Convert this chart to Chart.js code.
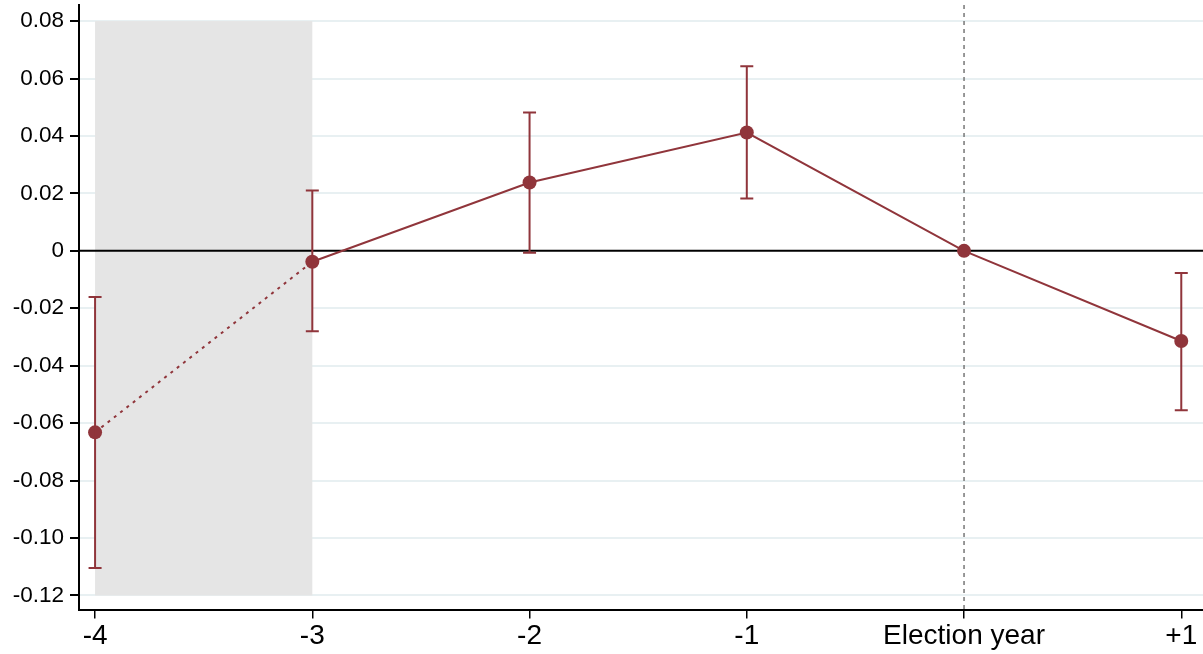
<!DOCTYPE html>
<html>
<head>
<meta charset="utf-8">
<script src="https://cdn.jsdelivr.net/npm/chart.js@4/dist/chart.umd.min.js"></script>
<style>
  html, body { margin: 0; padding: 0; background: #fff; }
  #wrap { width: 1203px; height: 654px; }
</style>
</head>
<body>
<div id="wrap"><canvas id="chart"></canvas></div>
<script>
// ---------- Data ----------
const categories = ['-4', '-3', '-2', '-1', 'Election year', '+1'];
const estimates = [-0.0632, -0.0038, 0.0238, 0.0412, 0, -0.0314];
const ciLower = [-0.1104, -0.0280, -0.0007, 0.0182, null, -0.0555];
const ciUpper = [-0.0161, 0.0210, 0.0482, 0.0643, null, -0.0077];
const yTicks = [-0.12, -0.10, -0.08, -0.06, -0.04, -0.02, 0, 0.02, 0.04, 0.06, 0.08];
const yTickLabels = ['-0.12', '-0.10', '-0.08', '-0.06', '-0.04', '-0.02', '0', '0.02', '0.04', '0.06', '0.08'];
const shadedFrom = 0; // index of '-4'
const shadedTo = 1;   // index of '-3'
const eventIndex = 4; // 'Election year'

const RED = '#90353b';
const FONT = "'Liberation Sans', Arial, sans-serif";

// ---------- Plugins ----------
// gray pre-period band, zero line and the event line, drawn under the data
const backdrop = {
    id: 'backdrop',
    beforeDatasetsDraw(chart) {
        const { ctx, scales: { x, y }, chartArea } = chart;
        ctx.save();
        const x0 = x.getPixelForValue(shadedFrom);
        const x1 = x.getPixelForValue(shadedTo);
        const yTop = y.getPixelForValue(yTicks[yTicks.length - 1]);
        const yBot = y.getPixelForValue(yTicks[0]);
        ctx.fillStyle = '#e5e5e5';
        ctx.fillRect(x0, yTop, x1 - x0, yBot - yTop);

        // zero line
        const y0 = y.getPixelForValue(0);
        ctx.strokeStyle = '#000';
        ctx.lineWidth = 2;
        ctx.beginPath();
        ctx.moveTo(chartArea.left, y0);
        ctx.lineTo(chartArea.right, y0);
        ctx.stroke();

        // election year line
        const xe = x.getPixelForValue(eventIndex);
        ctx.strokeStyle = '#777';
        ctx.lineWidth = 1.5;
        ctx.setLineDash([4, 4]);
        ctx.beginPath();
        ctx.moveTo(xe, chartArea.top);
        ctx.lineTo(xe, chartArea.bottom);
        ctx.stroke();
        ctx.restore();
    },
};

// confidence intervals with caps
const errorBars = {
    id: 'errorBars',
    afterDatasetsDraw(chart) {
        const { ctx, scales: { x, y } } = chart;
        ctx.save();
        ctx.strokeStyle = RED;
        ctx.lineWidth = 2;
        categories.forEach((c, i) => {
            if (ciLower[i] == null || ciUpper[i] == null) return;
            const px = x.getPixelForValue(i);
            const lo = y.getPixelForValue(ciLower[i]);
            const hi = y.getPixelForValue(ciUpper[i]);
            ctx.beginPath();
            ctx.moveTo(px, lo); ctx.lineTo(px, hi);
            ctx.moveTo(px - 6.5, lo); ctx.lineTo(px + 6.5, lo);
            ctx.moveTo(px - 6.5, hi); ctx.lineTo(px + 6.5, hi);
            ctx.stroke();
        });
        ctx.restore();
    },
};

// ---------- Chart ----------
new Chart(document.getElementById('chart').getContext('2d'), {
    type: 'line',
    data: {
        datasets: [{
            data: estimates.map((v, i) => ({ x: i, y: v })),
            borderColor: RED,
            borderWidth: 2,
            backgroundColor: RED,
            pointBackgroundColor: RED,
            pointBorderColor: RED,
            pointRadius: 7,
            pointBorderWidth: 0,
            tension: 0,
            clip: false,
            segment: {
                borderDash: ctx => ctx.p0DataIndex === shadedFrom ? [3, 5] : undefined,
            },
        }],
    },
    options: {
        responsive: true,
        maintainAspectRatio: false,
        animation: false,
        layout: { autoPadding: false, padding: { top: 5, right: 0, left: 0, bottom: 0 } },
        plugins: { legend: { display: false }, tooltip: { enabled: false } },
        scales: {
            x: {
                type: 'linear',
                min: -0.074,
                max: 5.1,
                afterBuildTicks: axis => { axis.ticks = categories.map((c, i) => ({ value: i })); },
                afterFit: axis => { axis.paddingLeft = 0; axis.paddingRight = 0; },
                ticks: {
                    callback: v => categories[v],
                    color: '#000',
                    font: { family: FONT, size: 28 },
                    padding: 1,
                    maxRotation: 0,
                    autoSkip: false,
                },
                grid: { display: true, drawOnChartArea: false, tickLength: 8, tickColor: '#000', lineWidth: 1.5 },
                border: { color: '#000', width: 2 },
            },
            y: {
                min: -0.1252,
                max: 0.0856,
                afterBuildTicks: axis => { axis.ticks = yTicks.map(v => ({ value: v })); },
                afterFit: axis => { axis.width = 79; axis.paddingTop = 0; axis.paddingBottom = 0; },
                ticks: {
                    callback: (v, i) => yTickLabels[i],
                    color: '#000',
                    font: { family: FONT, size: 22.5 },
                    padding: 6,
                },
                grid: {
                    color: ctx => ctx.tick && ctx.tick.value === 0 ? 'rgba(0,0,0,0)' : '#e8f0f2',
                    lineWidth: 2,
                    tickLength: 9,
                    tickColor: '#000',
                },
                border: { color: '#000', width: 2 },
            },
        },
    },
    plugins: [backdrop, errorBars],
});
</script>
</body>
</html>
